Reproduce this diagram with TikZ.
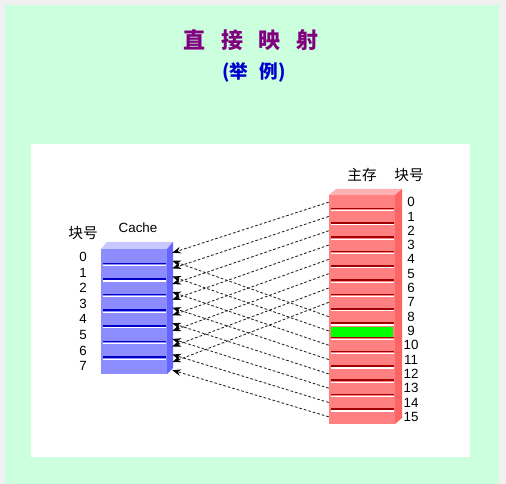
\documentclass[tikz,border=0pt]{standalone}
\usepackage{fontspec}
\setmainfont{Liberation Sans}
\newfontfamily\cjk{Noto Sans CJK SC}
\usetikzlibrary{arrows.meta,positioning}
\definecolor{pagegray}{RGB}{240,240,240}
\definecolor{panelgreen}{RGB}{204,255,221}
\definecolor{titlepurple}{RGB}{128,0,128}
\definecolor{titleblue}{RGB}{0,0,204}
\definecolor{cachefront}{RGB}{140,140,255}
\definecolor{cachetop}{RGB}{200,200,255}
\definecolor{cacheside}{RGB}{100,100,255}
\definecolor{cacheline}{RGB}{0,0,200}
\definecolor{memfront}{RGB}{255,128,128}
\definecolor{memtop}{RGB}{255,176,176}
\definecolor{memside}{RGB}{255,100,100}
\definecolor{memline}{RGB}{160,0,0}
\definecolor{memhit}{RGB}{0,255,0}
\tikzset{cache row/.style={rectangle,fill=cachefront,minimum width=49.5pt,minimum height=11.72pt,inner sep=0pt},
         mem row/.style={rectangle,fill=memfront,minimum width=49.5pt,minimum height=10.73pt,inner sep=0pt},
         num label/.style={font=\fontsize{10}{12}\selectfont,inner sep=0pt},
         head label/.style={font=\cjk\fontsize{11}{13}\selectfont,inner sep=0pt},
         map edge/.style={dash pattern=on 2pt off 1.5pt,black!85,line width=0.65pt,-{Stealth[length=6.5pt,width=5pt,black]}}
}

\begin{document}
\begin{tikzpicture}[x=0.75pt,y=-0.75pt]
\fill[pagegray] (0,0) rectangle (506,484);
\fill[panelgreen] (5,5) rectangle (499,484);
\fill[white] (31,144) rectangle (470,457);

\node[font=\cjk\bfseries\fontsize{16.5}{18}\selectfont,text=titlepurple] (title) at (251,40)
    {直\hspace{0.7em}接\hspace{0.7em}映\hspace{0.7em}射};
\node[font=\cjk\bfseries\fontsize{14}{16}\selectfont,text=titleblue] (subtitle) at (254,72)
    {(举\hspace{0.6em}例)};

% cache block
\fill[cachetop] (101,249) -- (107,242) -- (173,242) -- (167,249) -- cycle;
\fill[cacheside] (167,249) -- (173,242) -- (173,368) -- (167,374) -- cycle;
\foreach \i in {0,...,7}
    \node[cache row] (c\i) at (134,{256.8+15.625*\i}) {};
\foreach \i in {0,...,6}{
    \draw[cacheline,line width=1.2pt] ([shift={(2,-1.5)}]c\i.south west) -- ([shift={(-1,-1.5)}]c\i.south east);
    \draw[white,line width=0.9pt] ([shift={(2,0.5)}]c\i.south west) -- ([shift={(-1,0.5)}]c\i.south east);
}
\foreach \i in {0,...,7}
    \node[num label] (cn\i) at (83,{256.8+15.625*\i}) {\i};
\node[head label] (cachehead) at (83,233) {块号};
\node[num label] (cachename) at (138,228) {Cache};

% main memory block
\fill[memtop] (329,195) -- (336,189) -- (402,189) -- (395,195) -- cycle;
\fill[memside] (395,195) -- (402,189) -- (402,418) -- (395,424) -- cycle;
\foreach \j in {0,...,15}
    \node[mem row] (m\j) at (362,{202.15+14.31*\j}) {};
\foreach \j in {0,...,14}{
    \draw[memline,line width=1.2pt] ([shift={(2,-1)}]m\j.south west) -- ([shift={(-1,-1)}]m\j.south east);
    \draw[white,line width=0.9pt] ([shift={(2,1)}]m\j.south west) -- ([shift={(-1,1)}]m\j.south east);
}
\fill[memhit] ([shift={(2,3)}]m9.north west) rectangle ([shift={(-2,-1)}]m9.south east);
\foreach \j in {0,...,15}
    \node[num label] (mn\j) at (411,{202.15+14.31*\j}) {\j};
\node[head label] (memname) at (362,175) {主存};
\node[head label] (memhead) at (409,175) {块号};

% mapping j -> j mod 8
\foreach \j in {0,...,15}{
    \pgfmathtruncatemacro\k{mod(\j,8)}
    \pgfmathsetmacro\dy{\j<8 ? -4 : 4}
    \coordinate (a\j) at ([shift={(5,\dy)}]c\k.east);
    \draw[map edge] (m\j.west) -- (a\j);
}
\end{tikzpicture}
\end{document}
